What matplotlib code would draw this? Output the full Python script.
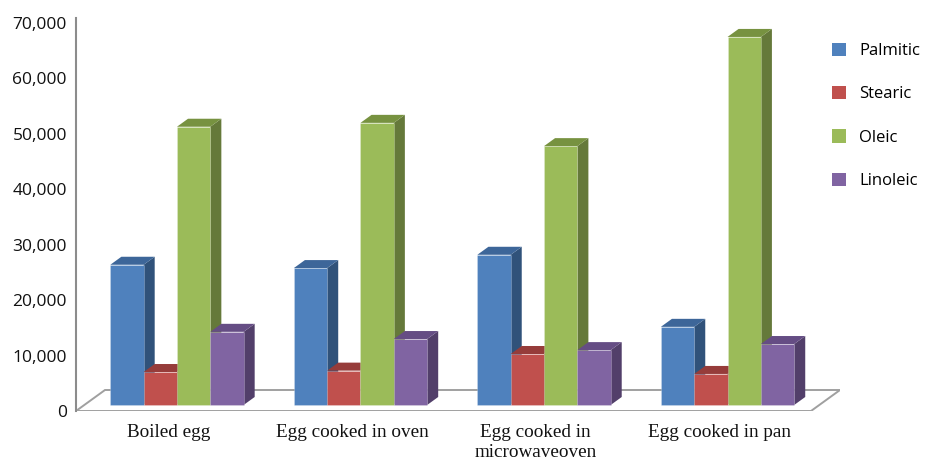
import matplotlib.pyplot as plt
import numpy as np
from matplotlib.patches import Polygon, Patch
from matplotlib.ticker import FuncFormatter

# fatty acid content per cooking method
methods = ["Boiled egg", "Egg cooked in oven", "Egg cooked in\nmicrowaveoven", "Egg cooked in pan"]
acids = ["Palmitic", "Stearic", "Oleic", "Linoleic"]
palmitic = [25300, 24700, 27100, 14100]
stearic = [5950, 6200, 9200, 5600]
oleic = [50200, 50900, 46700, 66400]
linoleic = [13200, 11900, 9900, 11000]

front = ["#4F81BD", "#C0504D", "#9BBB59", "#8064A2"]
top = ["#3D6699", "#963C3A", "#779240", "#654D84"]
side = ["#30527A", "#7E3431", "#65793A", "#523F6A"]

fig = plt.figure(figsize=(9.35, 4.65), dpi=100)
ax = fig.add_axes([76 / 935, 54 / 465, 764 / 935, 393 / 465])
ax.set_xlim(-0.505, 3.658)
ax.set_ylim(0, 70900)

# oblique depth: one unit of depth moves right and up
ddx = 0.158
ddy = 3789
z0, z1 = 0.286, 0.667
w = 0.1816

# floor
x0, x1 = -0.505, 3.50
floor = Polygon([(x0, 0), (x1, 0), (x1 + ddx, ddy), (x0 + ddx, ddy)], closed=True,
                facecolor="none", edgecolor="#A0A0A0", lw=1.4, zorder=1)
ax.add_patch(floor)

series = [palmitic, stearic, oleic, linoleic]
x = np.arange(len(methods))
for i in x:
    for k, vals in enumerate(series):
        v = vals[i]
        left = i - 2 * w + k * w + z0 * ddx
        base = z0 * ddy
        dx = (z1 - z0) * ddx
        dy = (z1 - z0) * ddy
        right = left + w
        zo = 2 + i * 4 + k
        ax.add_patch(Polygon([(right, base), (right + dx, base + dy),
                              (right + dx, base + v + dy), (right, base + v)],
                             closed=True, facecolor=side[k], edgecolor="none", zorder=zo))
        ax.bar(left, v, w, bottom=base, align="edge", color=front[k],
               edgecolor="#FFFFFF40", lw=0.6, zorder=zo)
        ax.add_patch(Polygon([(left, base + v), (right, base + v),
                              (right + dx, base + v + dy), (left + dx, base + v + dy)],
                             closed=True, facecolor=top[k], edgecolor="none", zorder=zo))

for s in ["top", "right", "bottom"]:
    ax.spines[s].set_visible(False)
ax.spines["left"].set_color("#8C8C8C")
ax.spines["left"].set_linewidth(1.5)

ax.set_yticks(np.arange(0, 70001, 10000))
ax.yaxis.set_major_formatter(FuncFormatter(lambda v, p: f"{int(v):,}"))
ax.tick_params(axis="y", length=0, pad=6.5, labelsize=12.5, labelcolor="#111111")
for lab in ax.get_yticklabels():
    lab.set_family("Open Sans")

ax.set_xticks(x)
ax.set_xticklabels(methods, family="Liberation Serif", fontsize=13.8, color="#111111",
                   linespacing=1.3)
ax.tick_params(axis="x", length=0, pad=9)

handles = [Patch(facecolor=c, edgecolor="none") for c in front]
fig.legend(handles, acids, loc="upper left", bbox_to_anchor=(832 / 935, 1 - 42.6 / 465),
           frameon=False, prop={"family": "Open Sans", "size": 12},
           handlelength=0.84, handleheight=0.84, handletextpad=0.78,
           labelspacing=1.62, borderpad=0, borderaxespad=0)

fig.savefig("out.png", dpi=100)
